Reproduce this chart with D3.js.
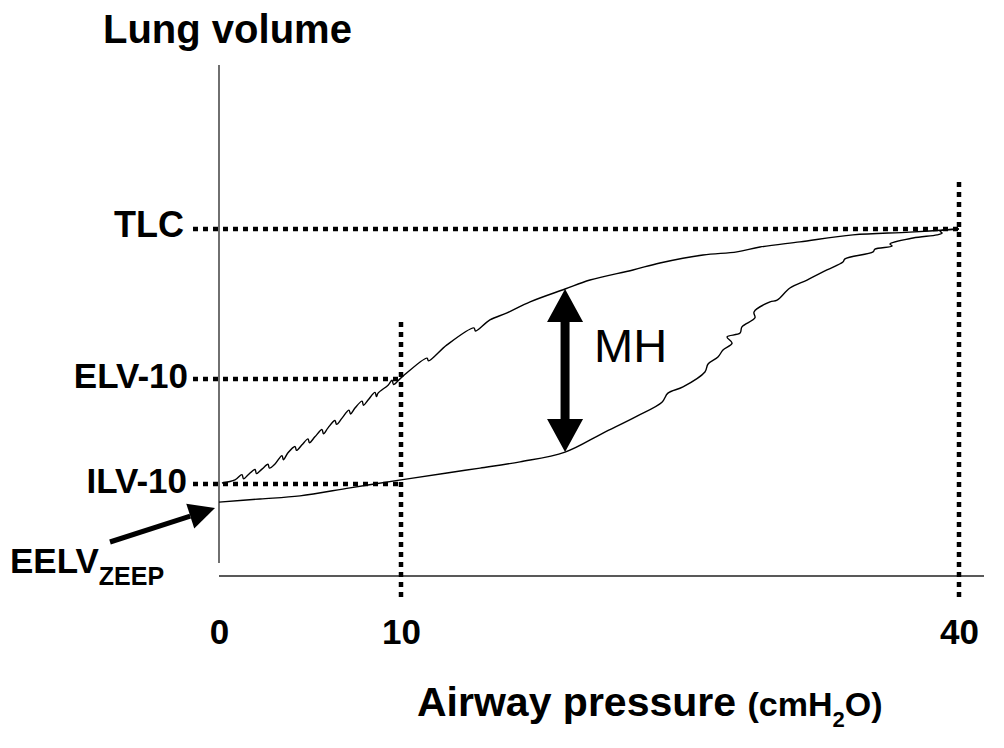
<!DOCTYPE html>
<html><head><meta charset="utf-8">
<script src="https://cdn.jsdelivr.net/npm/d3@7"></script>
<style>
body{margin:0;background:#fff}
svg{display:block}
text{font-family:"Liberation Sans",Arial,Helvetica,sans-serif;fill:#000}
</style>
</head><body>
<svg id="c" width="1004" height="748"></svg>
<script>
// ---- data (pressure in cmH2O, volume in % of TLC) ----
const inflP = [0, 2.25, 4.45, 7.2, 10, 12.47, 14.25, 16.4, 18.82, 20.86, 22.69, 24.03, 24.35, 25.16, 26.34, 26.51, 27.04, 27.31, 27.8, 27.53, 28.23, 28.33, 29.03, 28.98, 29.84, 30.22, 30.91, 31.83, 32.9, 33.76, 33.87, 35.38, 35.48, 36.4, 36.29, 37.53, 38.82, 39.09, 38.98, 40];
const inflV = [21.3, 22.2, 23.1, 25.4, 27.7, 29.7, 31.1, 32.9, 35.7, 41.2, 46.1, 50.1, 52.7, 54.5, 58.8, 61.1, 63.1, 65.1, 67.1, 68.9, 70.0, 71.8, 74.4, 76.1, 79.0, 79.5, 83.0, 85.3, 88.2, 90.5, 91.4, 93.4, 94.2, 95.1, 95.7, 97.4, 98.3, 98.8, 99.4, 100];
const deflP = [40, 37.37, 34.3, 31.45, 29.3, 28.06, 26.24, 23.92, 22.47, 20.16, 18.82, 16.94, 15.7, 14.78, 14.01, 13.92, 12.47, 11.48, 11.4, 10, 9.59, 9.51, 9.29, 8.74, 8.65, 8.57, 8.19, 7.94, 7.86, 7.47, 7.23, 7.14, 6.76, 6.46, 6.37, 5.99, 5.74, 5.66, 5.27, 4.97, 4.89, 4.56, 4.26, 4.18, 3.79, 3.54, 3.46, 3.08, 2.77, 2.69, 2.36, 2.06, 1.98, 1.59, 1.35, 1.26, 0.88, 0.16];
const deflV = [100, 99.1, 98.3, 96.3, 94.8, 93.4, 92.5, 90.2, 88.2, 85.3, 82.7, 79.0, 75.8, 73.8, 70.6, 71.5, 66.6, 62.0, 62.8, 57.1, 55.2, 56.4, 55.0, 52.7, 51.7, 52.9, 50.7, 49.2, 50.4, 48.4, 46.7, 47.8, 45.5, 43.7, 44.8, 42.7, 41.0, 42.2, 40.1, 38.4, 39.5, 37.8, 36.2, 37.3, 35.5, 33.5, 34.7, 32.3, 31.1, 32.2, 30.8, 29.5, 30.7, 29.1, 28.0, 29.2, 27.7, 26.8];

const xTicks = [0, 10, 40];
const xTickLabels = ["0", "10", "40"];
const refLabels = ["TLC", "ELV-10", "ILV-10"];
const refValues = [100, 56.8, 26.5];
const refEndP = [40, 10, 10];
const vertRefP = [10, 40];
const eelvValue = 21.3;
const mhP = 18.82, mhTop = 82.7, mhBottom = 35.7;

// ---- scales ----
const x = d3.scaleLinear().domain([0, 10, 40]).range([219, 401, 959]);
const y = d3.scaleLinear().domain([0, 100]).range([576, 229]);

const svg = d3.select("#c");

// axes lines
svg.append("line").attr("x1", 219).attr("x2", 219).attr("y1", 65).attr("y2", 563)
  .attr("stroke", "#222").attr("stroke-width", 1.3);
svg.append("line").attr("x1", 219).attr("x2", 984).attr("y1", 576).attr("y2", 576)
  .attr("stroke", "#222").attr("stroke-width", 1.3);

// x tick labels via axis
const ax = svg.append("g").attr("transform", "translate(0,576)")
  .call(d3.axisBottom(x).tickValues(xTicks).tickFormat((d, i) => xTickLabels[i]).tickSize(0).tickPadding(43));
ax.select(".domain").remove();
ax.selectAll("text").attr("font-family", "Liberation Sans, Arial, sans-serif")
  .attr("font-size", 35).attr("font-weight", "bold").attr("fill", "#000");

const dot = {stroke: "#000", w: 4.5, dash: "5,5"};

// horizontal reference dotted lines
refValues.forEach((v, i) => {
  svg.append("line").attr("x1", 193).attr("x2", x(refEndP[i]))
    .attr("y1", y(v)).attr("y2", y(v))
    .attr("stroke", dot.stroke).attr("stroke-width", dot.w).attr("stroke-dasharray", dot.dash);
});
const refLabelX = [184, 188, 187];
const refLabelDy = [8, 9, 9];
refValues.forEach((v, i) => {
  svg.append("text").attr("x", refLabelX[i]).attr("y", y(v) + refLabelDy[i])
    .attr("text-anchor", "end").attr("font-size", i === 0 ? 36 : 35).attr("font-weight", "bold")
    .text(refLabels[i]);
});

// vertical reference dotted lines
const vTop = {10: 322, 40: 182};
vertRefP.forEach(p => {
  svg.append("line").attr("x1", x(p)).attr("x2", x(p))
    .attr("y1", vTop[p]).attr("y2", 600)
    .attr("stroke", dot.stroke).attr("stroke-width", dot.w).attr("stroke-dasharray", dot.dash);
});

// curves
const line = d3.line().x(d => x(d[0])).y(d => y(d[1])).curve(d3.curveCatmullRom.alpha(0.5));
const infl = inflP.map((p, i) => [p, inflV[i]]);
const defl = deflP.map((p, i) => [p, deflV[i]]);
[infl, defl].forEach(data => {
  svg.append("path").datum(data).attr("d", line)
    .attr("fill", "none").attr("stroke", "#000").attr("stroke-width", 1.4)
    .attr("stroke-linejoin", "round");
});

// MH double arrow
const mx = x(mhP), my1 = y(mhTop), my2 = y(mhBottom);
const hl = 33, hw = 18, sw = 4.5;
const mhPath = [
  [mx, my1], [mx + hw, my1 + hl], [mx + sw, my1 + hl], [mx + sw, my2 - hl], [mx + hw, my2 - hl],
  [mx, my2], [mx - hw, my2 - hl], [mx - sw, my2 - hl], [mx - sw, my1 + hl], [mx - hw, my1 + hl]
];
svg.append("path").attr("d", "M" + mhPath.map(p => p.join(",")).join("L") + "Z").attr("fill", "#000");
svg.append("text").attr("x", 594).attr("y", 362).attr("font-size", 47).text("MH");

// EELV arrow
const tipX = x(0) - 4, tipY = y(eelvValue) + 6;
const tailX = 110, tailY = 542;
const ang = Math.atan2(tipY - tailY, tipX - tailX);
const ahl = 26, ahw = 13;
const bx = tipX - ahl * Math.cos(ang), by = tipY - ahl * Math.sin(ang);
svg.append("line").attr("x1", tailX).attr("y1", tailY).attr("x2", bx).attr("y2", by)
  .attr("stroke", "#000").attr("stroke-width", 5);
svg.append("path").attr("d",
  `M${tipX},${tipY}L${bx + ahw * Math.sin(ang)},${by - ahw * Math.cos(ang)}L${bx - ahw * Math.sin(ang)},${by + ahw * Math.cos(ang)}Z`)
  .attr("fill", "#000");
const eel = svg.append("text").attr("x", 10).attr("y", 573).attr("font-weight", "bold").attr("font-size", 35);
eel.append("tspan").text("EELV");
eel.append("tspan").attr("font-size", 25).attr("dy", 12).text("ZEEP");

// titles
svg.append("text").attr("x", 103).attr("y", 43).attr("font-size", 40).attr("font-weight", "bold").text("Lung volume");
const xt = svg.append("text").attr("x", 417).attr("y", 716).attr("font-weight", "bold");
xt.append("tspan").attr("font-size", 41).text("Airway pressure ");
xt.append("tspan").attr("font-size", 34).text("(cmH");
xt.append("tspan").attr("font-size", 22).attr("dy", 11).text("2");
xt.append("tspan").attr("font-size", 34).attr("dy", -11).text("O)");
</script>
</body></html>
